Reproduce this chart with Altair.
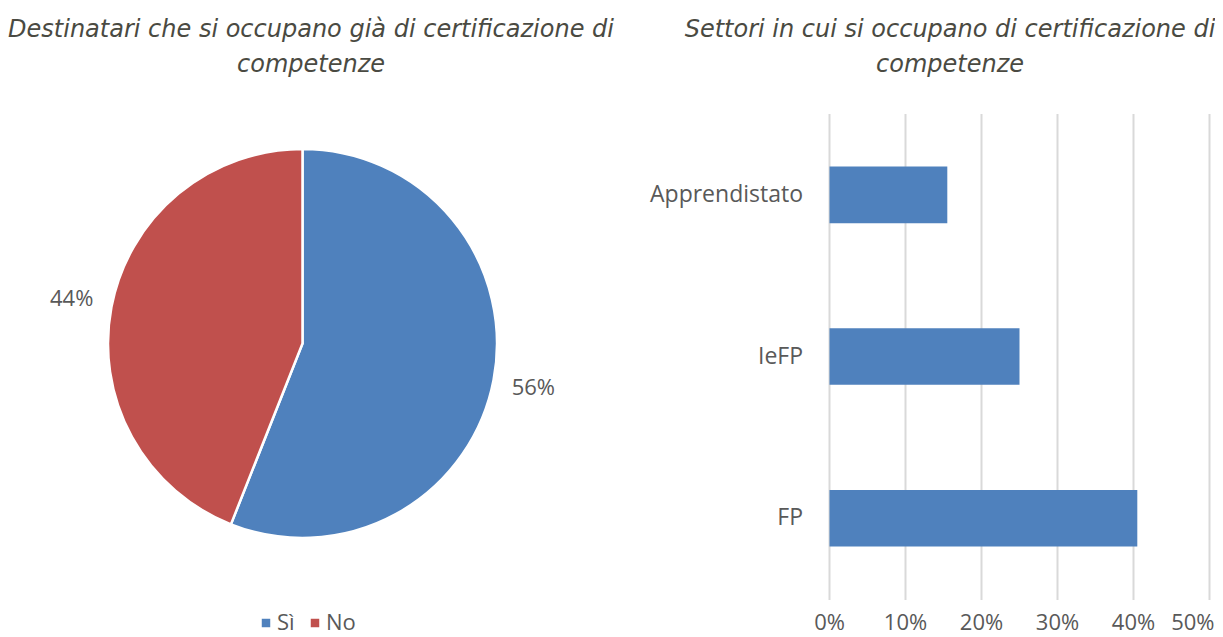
import altair as alt
import pandas as pd

# ---- data ----
pie_labels = ["Sì", "No"]
pie_values = [0.56, 0.44]
pie_colors = ["#4F81BD", "#C0504D"]

sectors = ["Apprendistato", "IeFP", "FP"]
sector_values = [0.155, 0.25, 0.405]

x_ticks = [0.0, 0.1, 0.2, 0.3, 0.4, 0.5]

left_title = ["Destinatari che si occupano già di certificazione di", "competenze"]
right_title = ["Settori in cui si occupano di certificazione di", "competenze"]

pie_df = pd.DataFrame({"cat": pie_labels, "value": pie_values, "idx": list(range(len(pie_labels)))})
bar_df = pd.DataFrame({"sector": sectors, "value": sector_values})
tick_df = pd.DataFrame({"tick": x_ticks})

W, H = 1207, 629
LABEL_FONT = "Open Sans"
TITLE_FONT = "DejaVu Sans"
GRAY = "#595959"
TITLE_COLOR = "#4a4a42"

# pie center / radius
CX, CY, R = 294.5, 335.5, 194.5

x_scale = alt.Scale(domain=[0, 0.5], range=[821.5, 1201.5], nice=False, zero=True)
y_scale = alt.Scale(domain=sectors, range=[106, 591], paddingInner=0.65, paddingOuter=0.325)

pie = alt.Chart(pie_df).mark_arc(outerRadius=R, stroke="white", strokeWidth=2.5).encode(
    theta=alt.Theta("value:Q", stack=True),
    order=alt.Order("idx:Q"),
    color=alt.Color(
        "cat:N",
        scale=alt.Scale(domain=pie_labels, range=pie_colors),
        title=None,
        legend=alt.Legend(
            orient="none",
            legendX=247,
            legendY=604,
            direction="horizontal",
            symbolType="square",
            symbolSize=72,
            symbolStrokeWidth=0,
            labelFont=LABEL_FONT,
            labelFontSize=22,
            labelColor=GRAY,
            columnPadding=9,
            labelOffset=0,
        ),
    ),
    x=alt.value(CX),
    y=alt.value(CY),
)

pie_text = alt.Chart(pie_df).mark_text(
    radius=235, font=LABEL_FONT, fontSize=22, color=GRAY
).encode(
    theta=alt.Theta("value:Q", stack=True),
    order=alt.Order("idx:Q"),
    text=alt.Text("value:Q", format=".0%"),
    x=alt.value(CX),
    y=alt.value(CY),
)

grid = alt.Chart(tick_df).mark_rule(color="#d9d9d9", strokeWidth=2).encode(
    x=alt.X("tick:Q", scale=x_scale, axis=None),
    y=alt.value(106),
    y2=alt.value(592),
)

bars = alt.Chart(bar_df).mark_bar(color="#4F81BD").encode(
    x=alt.X("value:Q", scale=x_scale, axis=None),
    y=alt.Y("sector:N", scale=y_scale, axis=None),
)

ylabels = alt.Chart(bar_df).mark_text(
    align="right", baseline="middle", font=LABEL_FONT, fontSize=23, color=GRAY
).encode(
    y=alt.Y("sector:N", scale=y_scale, axis=None),
    x=alt.value(795),
    text="sector:N",
)

xlabels = alt.Chart(tick_df).transform_filter(
    alt.datum.tick < 0.5
).mark_text(
    align="center", baseline="alphabetic", font=LABEL_FONT, fontSize=22, color=GRAY
).encode(
    x=alt.X("tick:Q", scale=x_scale, axis=None),
    y=alt.value(622),
    text=alt.Text("tick:Q", format=".0%"),
)

# last tick label kept inside the page edge
xlabel_last = alt.Chart(tick_df).transform_filter(
    alt.datum.tick >= 0.5
).mark_text(
    align="right", baseline="alphabetic", font=LABEL_FONT, fontSize=22, color=GRAY, dx=5
).encode(
    x=alt.X("tick:Q", scale=x_scale, axis=None),
    y=alt.value(622),
    text=alt.Text("tick:Q", format=".0%"),
)

title_l = alt.Chart(alt.Data(values=[{}])).mark_text(
    align="center", baseline="middle", font=TITLE_FONT, fontStyle="italic",
    fontSize=24, color=TITLE_COLOR, lineHeight=35,
).encode(x=alt.value(303), y=alt.value(22), text=alt.value(left_title))

title_r = alt.Chart(alt.Data(values=[{}])).mark_text(
    align="center", baseline="middle", font=TITLE_FONT, fontStyle="italic",
    fontSize=24, color=TITLE_COLOR, lineHeight=35,
).encode(x=alt.value(942), y=alt.value(22), text=alt.value(right_title))

chart = alt.layer(
    grid, bars, ylabels, xlabels, xlabel_last, pie, pie_text, title_l, title_r
).properties(
    width=W, height=H, padding=0,
    autosize=alt.AutoSizeParams(type="none"),
    background="white",
).configure_view(stroke=None)

chart.save("out.html", embed_options={"renderer": "svg", "actions": False})
